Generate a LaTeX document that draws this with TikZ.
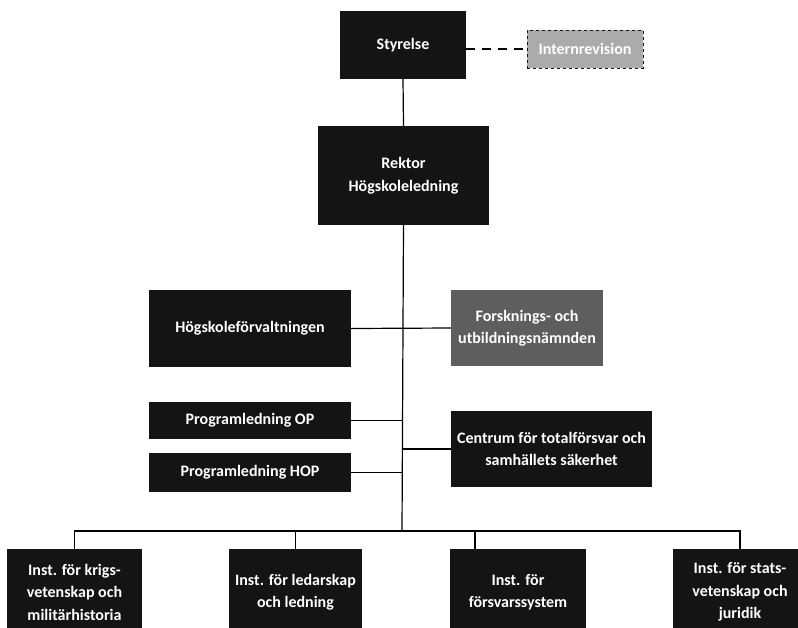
\documentclass[tikz,border=0pt]{standalone}
\usepackage{fontspec}
\setmainfont{Carlito}
\definecolor{boxdark}{HTML}{141414}
\definecolor{boxmid}{HTML}{5E5E5E}
\definecolor{boxlight}{HTML}{ABABAB}

\begin{document}
\begin{tikzpicture}[x=1pt,y=-1pt]
\tikzstyle{every node}=[font=\bfseries\fontsize{16}{22.5}\selectfont,text=white,align=center,inner sep=0pt]
\tikzstyle{unit}=[fill=boxdark]
\tikzstyle{link}=[line width=1.2pt,black]
\useasboundingbox (0,0) rectangle (798,627);
\clip (0,0) rectangle (798,627);

% top
\node[unit,minimum width=126pt,minimum height=68pt] (styrelse) at (403,45) {Styrelse};
\node[fill=boxlight,draw=boxdark,dashed,line width=1pt,minimum width=116pt,minimum height=38pt] (internrev) at (585,49) {Internrevision};
\node[unit,minimum width=171pt,minimum height=99pt] (rektor) at (403.5,175.5) {Rektor\\Högskoleledning};

% middle
\node[unit,minimum width=202pt,minimum height=77pt] (forvaltning) at (250,328.5) {Högskoleförvaltningen};
\node[fill=boxmid,minimum width=152pt,minimum height=76pt] (fun) at (527,328) {Forsknings- och\\utbildningsnämnden};
\node[unit,minimum width=202pt,minimum height=37pt] (progop) at (250,420.5) {Programledning OP};
\node[unit,minimum width=202pt,minimum height=39pt] (prohop) at (250,472.5) {Programledning HOP};
\node[unit,minimum width=201pt,minimum height=76pt] (centrum) at (551.5,449) {Centrum för totalförsvar och\\samhällets säkerhet};

% institutions
\tikzstyle{inst}=[unit,minimum height=86pt]
\node[inst,minimum width=135pt] (inst1) at (74.5,592) {Inst. för krigs-\\vetenskap och\\militärhistoria};
\node[inst,minimum width=133pt] (inst2) at (295.5,592) {Inst. för ledarskap\\och ledning};
\node[inst,minimum width=136pt] (inst3) at (518,592) {Inst. för\\försvarssystem};
\node[inst,minimum width=134pt] (inst4) at (740,592) {Inst. för stats-\\vetenskap och\\juridik};

\coordinate (bus) at (402,531);
\coordinate (drop3) at (475,531);

% connectors
\draw[link,line width=2pt,dash pattern=on 9pt off 7pt] (styrelse.east |- internrev.west) -- (internrev.west);
\draw[link] (styrelse.south) -- (rektor.north);
\draw[link] (rektor.south) -- (bus);
\draw[link] (forvaltning.east) -- (fun.west);
\draw[link] (progop.east) -- (progop.east -| bus);
\draw[link] (prohop.east) -- (prohop.east -| bus);
\draw[link] (centrum.west -| bus) -- (centrum.west);
\draw[link] (inst1.north) |- (bus) -| (inst4.north);
\draw[link] (inst2.north) -- (inst2.north |- bus);
\draw[link] (drop3) -- (drop3 |- inst3.north);

\end{tikzpicture}
\end{document}
